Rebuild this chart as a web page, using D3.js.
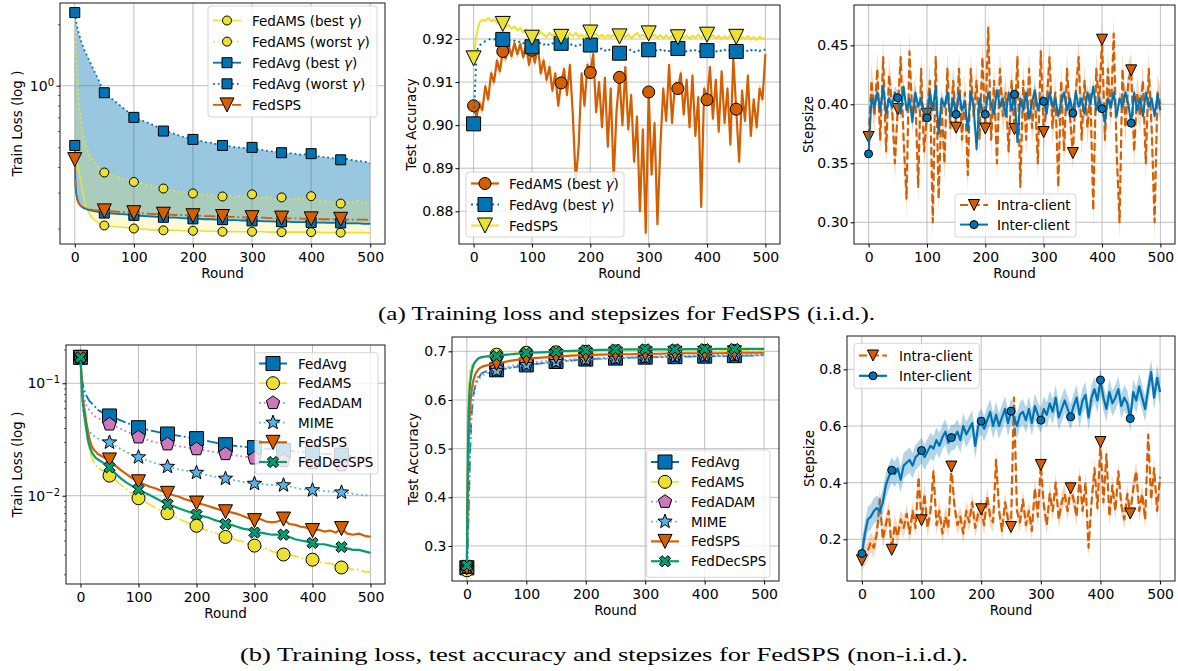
<!DOCTYPE html>
<html>
<head>
<meta charset="utf-8">
<script src="https://cdn.jsdelivr.net/npm/d3@7"></script>
<style>
body { margin: 0; background: #fff; }
text { font-family: "DejaVu Sans", sans-serif; fill: #000; }
</style>
</head>
<body>
<div id="chart"></div>
<script>
// ---------- data ----------
const ROUND_TICKS = [0, 100, 200, 300, 400, 500];
const ROUNDS_5 = d3.range(0, 501, 5);

// (a) left: train loss (i.i.d.)
const A_ROUNDS = [0, 1, 2, 3, 4, 6, 8, 10, 13, 16, 20, 25, 30, 40].concat(d3.range(50, 501, 10));
const A_AMS_BEST = [0.51, 0.48, 0.46, 0.44, 0.42, 0.39, 0.365, 0.345, 0.305, 0.275, 0.252, 0.235, 0.225, 0.213,
  0.207, 0.205, 0.204, 0.203, 0.202, 0.2, 0.199, 0.198, 0.197, 0.197, 0.196, 0.196, 0.196, 0.195, 0.195,
  0.195, 0.195, 0.194, 0.194, 0.194, 0.193, 0.193, 0.193, 0.193, 0.193, 0.193, 0.193, 0.193, 0.192, 0.192,
  0.192, 0.192, 0.192, 0.192, 0.192, 0.192, 0.192, 0.191, 0.191, 0.191, 0.191, 0.191, 0.191, 0.191, 0.191, 0.19];
const A_AMS_WORST = [2.28, 1.9, 1.6, 1.35, 1.15, 0.9, 0.78, 0.7, 0.6, 0.54, 0.5, 0.46, 0.44, 0.4,
  0.376, 0.368, 0.362, 0.352, 0.347, 0.338, 0.336, 0.328, 0.324, 0.318, 0.314, 0.309, 0.306, 0.3, 0.302,
  0.297, 0.295, 0.29, 0.293, 0.288, 0.287, 0.291, 0.284, 0.29, 0.286, 0.294, 0.284, 0.281, 0.286, 0.279,
  0.284, 0.279, 0.277, 0.283, 0.279, 0.288, 0.275, 0.272, 0.27, 0.267, 0.265, 0.27, 0.268, 0.273, 0.264, 0.27];
const A_AVG_BEST = [0.51, 0.34, 0.305, 0.29, 0.28, 0.27, 0.263, 0.258, 0.254, 0.251, 0.249, 0.246, 0.244, 0.241,
  0.238, 0.237, 0.236, 0.235, 0.234, 0.232, 0.231, 0.23, 0.229, 0.228, 0.227, 0.226, 0.226, 0.225, 0.224,
  0.223, 0.223, 0.222, 0.222, 0.221, 0.221, 0.22, 0.22, 0.219, 0.219, 0.218, 0.218, 0.217, 0.217, 0.216,
  0.216, 0.216, 0.215, 0.215, 0.215, 0.214, 0.214, 0.214, 0.213, 0.213, 0.213, 0.212, 0.212, 0.212, 0.211, 0.211];
const A_AVG_WORST = [2.28, 2.18, 2.09, 2.01, 1.95, 1.84, 1.76, 1.68, 1.58, 1.5, 1.42, 1.32, 1.23, 1.07,
  0.924, 0.875, 0.83, 0.785, 0.745, 0.7, 0.683, 0.665, 0.648, 0.628, 0.6, 0.592, 0.58, 0.565, 0.556,
  0.546, 0.54, 0.53, 0.526, 0.518, 0.51, 0.507, 0.5, 0.498, 0.495, 0.499, 0.488, 0.483, 0.478, 0.476,
  0.47, 0.468, 0.466, 0.46, 0.462, 0.465, 0.452, 0.448, 0.445, 0.44, 0.434, 0.438, 0.432, 0.428, 0.425, 0.418];
const A_SPS = [0.435, 0.33, 0.3, 0.285, 0.277, 0.268, 0.262, 0.258, 0.255, 0.252, 0.25, 0.248, 0.247, 0.245,
  0.244, 0.243, 0.242, 0.241, 0.24, 0.239, 0.238, 0.237, 0.236, 0.235, 0.235, 0.234, 0.233, 0.233, 0.232,
  0.231, 0.231, 0.23, 0.23, 0.229, 0.229, 0.228, 0.228, 0.227, 0.227, 0.226, 0.226, 0.226, 0.225, 0.225,
  0.225, 0.224, 0.224, 0.224, 0.223, 0.223, 0.223, 0.222, 0.222, 0.222, 0.222, 0.221, 0.221, 0.221, 0.221, 0.22];

// (a) middle: test accuracy (i.i.d.), every 5 rounds
const B_AMS = [0.9045, 0.9020, 0.9050, 0.9035, 0.9090, 0.9060, 0.9120, 0.9100, 0.9150, 0.9125,
  0.9171, 0.9155, 0.9185, 0.9160, 0.9190, 0.9165, 0.9188, 0.9158, 0.9185, 0.9140,
  0.9174, 0.9145, 0.9185, 0.9120, 0.9150, 0.9105, 0.9135, 0.9080, 0.9120, 0.9045,
  0.9098, 0.9130, 0.9070, 0.9140, 0.9025, 0.8870, 0.8950, 0.9120, 0.9045, 0.9140,
  0.9122, 0.9165, 0.9030, 0.9100, 0.8995, 0.9110, 0.8950, 0.9085, 0.8875, 0.9035,
  0.9111, 0.9000, 0.9135, 0.8990, 0.9070, 0.8915, 0.9020, 0.8800, 0.8990, 0.8750,
  0.9077, 0.8885, 0.9005, 0.8770, 0.8950, 0.9085, 0.9010, 0.9140, 0.9005, 0.9095,
  0.9085, 0.9120, 0.9025, 0.9105, 0.8995, 0.9115, 0.8975, 0.9065, 0.8810, 0.9085,
  0.9059, 0.9135, 0.9015, 0.9105, 0.8985, 0.9125, 0.9005, 0.9085, 0.8955, 0.9155,
  0.9037, 0.8915, 0.9080, 0.9010, 0.9115, 0.8975, 0.9060, 0.8995, 0.9085, 0.9060,
  0.9165];
const B_AVG = [0.9003, 0.9172, 0.9185, 0.9190, 0.9195, 0.9198, 0.9201, 0.9199, 0.9202, 0.9200,
  0.9199, 0.9196, 0.9198, 0.9194, 0.9196, 0.9192, 0.9195, 0.9190, 0.9193, 0.9188,
  0.9182, 0.9190, 0.9186, 0.9192, 0.9187, 0.9191, 0.9185, 0.9190, 0.9187, 0.9191,
  0.9190, 0.9186, 0.9190, 0.9185, 0.9189, 0.9184, 0.9188, 0.9185, 0.9189, 0.9184,
  0.9186, 0.9176, 0.9180, 0.9174, 0.9179, 0.9173, 0.9178, 0.9172, 0.9177, 0.9171,
  0.9167, 0.9174, 0.9178, 0.9172, 0.9176, 0.9170, 0.9175, 0.9171, 0.9176, 0.9172,
  0.9175, 0.9170, 0.9176, 0.9171, 0.9175, 0.9170, 0.9176, 0.9172, 0.9177, 0.9173,
  0.9178, 0.9172, 0.9176, 0.9171, 0.9175, 0.9170, 0.9174, 0.9169, 0.9175, 0.9170,
  0.9173, 0.9169, 0.9175, 0.9170, 0.9176, 0.9171, 0.9175, 0.9170, 0.9174, 0.9169,
  0.9171, 0.9176, 0.9172, 0.9177, 0.9171, 0.9175, 0.9170, 0.9176, 0.9172, 0.9177,
  0.9174];
const B_SPS = [0.9155, 0.9210, 0.9238, 0.9244, 0.9242, 0.9248, 0.9241, 0.9245, 0.9238, 0.9242,
  0.9235, 0.9228, 0.9232, 0.9224, 0.9229, 0.9220, 0.9226, 0.9215, 0.9222, 0.9212,
  0.9203, 0.9215, 0.9208, 0.9216, 0.9210, 0.9205, 0.9214, 0.9207, 0.9212, 0.9203,
  0.9205, 0.9211, 0.9204, 0.9213, 0.9206, 0.9214, 0.9205, 0.9210, 0.9203, 0.9212,
  0.9215, 0.9208, 0.9212, 0.9204, 0.9210, 0.9202, 0.9209, 0.9203, 0.9211, 0.9205,
  0.9206, 0.9212, 0.9204, 0.9210, 0.9202, 0.9208, 0.9214, 0.9205, 0.9210, 0.9204,
  0.9213, 0.9206, 0.9210, 0.9203, 0.9209, 0.9202, 0.9208, 0.9201, 0.9207, 0.9203,
  0.9204, 0.9210, 0.9203, 0.9208, 0.9201, 0.9207, 0.9203, 0.9210, 0.9202, 0.9209,
  0.9210, 0.9204, 0.9209, 0.9201, 0.9207, 0.9200, 0.9206, 0.9201, 0.9208, 0.9200,
  0.9205, 0.9199, 0.9205, 0.9200, 0.9207, 0.9199, 0.9204, 0.9198, 0.9205, 0.9200,
  0.9202];

// (a) right: stepsizes (i.i.d.), every 5 rounds
const C_INTRA = [0.3723, 0.420, 0.390, 0.430, 0.370, 0.440, 0.360, 0.425, 0.400, 0.350,
  0.396, 0.440, 0.370, 0.320, 0.445, 0.390, 0.410, 0.330, 0.430, 0.360,
  0.392, 0.420, 0.300, 0.440, 0.320, 0.400, 0.350, 0.430, 0.380, 0.420,
  0.3802, 0.430, 0.370, 0.410, 0.340, 0.430, 0.390, 0.420, 0.370, 0.440,
  0.3795, 0.465, 0.370, 0.420, 0.350, 0.430, 0.390, 0.410, 0.360, 0.420,
  0.379, 0.440, 0.330, 0.420, 0.370, 0.430, 0.380, 0.410, 0.350, 0.445,
  0.3765, 0.400, 0.440, 0.380, 0.410, 0.330, 0.420, 0.360, 0.430, 0.390,
  0.3587, 0.410, 0.440, 0.370, 0.420, 0.380, 0.410, 0.310, 0.430, 0.400,
  0.4548, 0.370, 0.430, 0.390, 0.460, 0.360, 0.300, 0.430, 0.380, 0.420,
  0.4288, 0.360, 0.410, 0.390, 0.420, 0.350, 0.430, 0.380, 0.300, 0.410,
  0.400];
const C_INTER = [0.358, 0.405, 0.398, 0.410, 0.395, 0.415, 0.392, 0.405, 0.398, 0.410,
  0.4055, 0.392, 0.415, 0.395, 0.405, 0.385, 0.410, 0.398, 0.405, 0.392,
  0.3885, 0.410, 0.395, 0.415, 0.375, 0.405, 0.398, 0.410, 0.390, 0.405,
  0.3915, 0.410, 0.395, 0.402, 0.378, 0.410, 0.398, 0.362, 0.405, 0.395,
  0.3915, 0.410, 0.400, 0.392, 0.412, 0.398, 0.405, 0.390, 0.410, 0.395,
  0.4085, 0.368, 0.405, 0.395, 0.410, 0.388, 0.402, 0.412, 0.395, 0.405,
  0.4025, 0.392, 0.410, 0.398, 0.405, 0.390, 0.402, 0.410, 0.395, 0.405,
  0.3925, 0.410, 0.398, 0.405, 0.392, 0.410, 0.400, 0.415, 0.395, 0.405,
  0.3963, 0.385, 0.405, 0.398, 0.410, 0.390, 0.405, 0.398, 0.410, 0.400,
  0.384, 0.410, 0.395, 0.405, 0.390, 0.410, 0.398, 0.405, 0.390, 0.408,
  0.395];

// (b) left: train loss (non-i.i.d.)
const D_ROUNDS = [0, 1, 2, 3, 4, 6, 8, 10, 13, 16, 20, 25, 30, 40].concat(d3.range(50, 501, 10));
const D_AVG = [0.17, 0.14, 0.12, 0.107, 0.098, 0.088, 0.082, 0.078, 0.073, 0.069, 0.066, 0.062, 0.058, 0.054,
  0.0512, 0.049, 0.0465, 0.0445, 0.0422, 0.0403, 0.0392, 0.0381, 0.0372, 0.0362, 0.0354, 0.0347, 0.034, 0.0334, 0.0328,
  0.0322, 0.0314, 0.0306, 0.0298, 0.029, 0.0284, 0.028, 0.0276, 0.0273, 0.027, 0.0268, 0.0265, 0.0262, 0.0259, 0.0256,
  0.0253, 0.025, 0.0247, 0.0245, 0.0242, 0.024, 0.0238, 0.0236, 0.0234, 0.0232, 0.023, 0.0227, 0.0224, 0.0221, 0.0218, 0.0215];
const D_AMS = [0.17, 0.13, 0.1, 0.08, 0.065, 0.052, 0.044, 0.037, 0.03, 0.025, 0.0215, 0.019, 0.0178, 0.0165,
  0.0151, 0.0138, 0.0125, 0.0113, 0.0103, 0.0095, 0.0089, 0.0083, 0.0078, 0.0073, 0.007, 0.0066, 0.0062, 0.0059, 0.0056,
  0.0054, 0.0051, 0.0049, 0.0047, 0.0045, 0.0043, 0.0042, 0.004, 0.0039, 0.0037, 0.0036, 0.0035, 0.0034, 0.0032, 0.0031,
  0.003, 0.003, 0.0029, 0.0028, 0.0027, 0.0027, 0.0026, 0.0025, 0.0025, 0.0024, 0.0023, 0.0023, 0.0022, 0.0022, 0.0021, 0.0021];
const D_ADAM = [0.17, 0.13, 0.108, 0.094, 0.085, 0.074, 0.068, 0.064, 0.06, 0.057, 0.054, 0.051, 0.049, 0.046,
  0.0431, 0.0412, 0.0392, 0.0372, 0.035, 0.0331, 0.0319, 0.0308, 0.0298, 0.0292, 0.0287, 0.0281, 0.0275, 0.027, 0.0265,
  0.026, 0.0255, 0.025, 0.0245, 0.024, 0.0235, 0.0231, 0.0227, 0.0223, 0.0219, 0.0215, 0.0213, 0.0211, 0.0209, 0.0207,
  0.0205, 0.0203, 0.0201, 0.0199, 0.0197, 0.0195, 0.0193, 0.0192, 0.019, 0.0189, 0.0187, 0.0186, 0.0184, 0.0183, 0.0182, 0.018];
const D_MIME = [0.17, 0.115, 0.085, 0.068, 0.058, 0.05, 0.045, 0.042, 0.039, 0.037, 0.035, 0.0335, 0.0322, 0.031,
  0.0298, 0.0278, 0.0259, 0.0243, 0.023, 0.022, 0.0211, 0.0202, 0.0194, 0.0187, 0.0181, 0.0176, 0.0171, 0.0167, 0.0163,
  0.016, 0.0156, 0.0152, 0.0148, 0.0145, 0.0142, 0.0139, 0.0136, 0.0133, 0.013, 0.0128, 0.0127, 0.0126, 0.0125, 0.0124,
  0.0124, 0.0121, 0.0118, 0.0115, 0.0113, 0.0112, 0.0111, 0.011, 0.0109, 0.0108, 0.0107, 0.0106, 0.0104, 0.0102, 0.0101, 0.01];
const D_SPS = [0.17, 0.135, 0.11, 0.09, 0.075, 0.062, 0.054, 0.045, 0.037, 0.031, 0.027, 0.025, 0.0235, 0.022,
  0.0208, 0.0185, 0.0168, 0.0155, 0.0142, 0.0133, 0.0126, 0.012, 0.0116, 0.011, 0.0105, 0.0101, 0.0098, 0.0093, 0.009,
  0.0086, 0.0084, 0.0081, 0.0078, 0.0075, 0.0072, 0.0071, 0.0069, 0.0066, 0.0063, 0.006, 0.0062, 0.0059, 0.0058, 0.0059,
  0.0062, 0.0056, 0.0055, 0.0053, 0.0052, 0.0049, 0.005, 0.0048, 0.0049, 0.0047, 0.0051, 0.0046, 0.0045, 0.0046, 0.0044, 0.0043];
const D_DEC = [0.17, 0.13, 0.1, 0.08, 0.068, 0.055, 0.047, 0.039, 0.031, 0.027, 0.024, 0.022, 0.021, 0.0195,
  0.0179, 0.0158, 0.0142, 0.013, 0.0121, 0.0114, 0.0107, 0.0101, 0.0095, 0.0089, 0.0084, 0.0081, 0.0077, 0.0074, 0.0071,
  0.0068, 0.0066, 0.0064, 0.0061, 0.0059, 0.0056, 0.0055, 0.0053, 0.0051, 0.005, 0.0047, 0.0047, 0.0046, 0.0045, 0.0045,
  0.0045, 0.0043, 0.0041, 0.004, 0.0039, 0.0038, 0.0037, 0.0037, 0.0036, 0.0035, 0.0035, 0.0034, 0.0033, 0.0033, 0.0032, 0.0031];

// (b) middle: test accuracy (non-i.i.d.)
const E_ROUNDS = [0, 1, 2, 3, 4, 5, 6, 8, 10, 12, 15, 20, 25, 30, 40].concat(d3.range(50, 501, 25));
const E_AVG = [0.255, 0.28, 0.32, 0.37, 0.42, 0.47, 0.51, 0.57, 0.6, 0.618, 0.632, 0.646, 0.655, 0.658, 0.66,
  0.662, 0.666, 0.672, 0.675, 0.679, 0.681, 0.684, 0.685, 0.686, 0.687, 0.688, 0.688, 0.689, 0.689, 0.69, 0.69, 0.691, 0.691, 0.692];
const E_AMS = [0.25, 0.42, 0.58, 0.64, 0.62, 0.66, 0.645, 0.67, 0.675, 0.668, 0.68, 0.685, 0.687, 0.689, 0.691,
  0.693, 0.695, 0.697, 0.698, 0.698, 0.699, 0.699, 0.699, 0.7, 0.7, 0.7, 0.7, 0.7, 0.7, 0.701, 0.701, 0.701, 0.701, 0.701];
const E_ADAM = [0.255, 0.29, 0.34, 0.4, 0.46, 0.51, 0.54, 0.585, 0.612, 0.628, 0.64, 0.65, 0.655, 0.658, 0.661,
  0.663, 0.67, 0.676, 0.679, 0.681, 0.683, 0.685, 0.686, 0.687, 0.688, 0.689, 0.69, 0.691, 0.691, 0.692, 0.692, 0.693, 0.693, 0.694];
const E_MIME = [0.255, 0.285, 0.33, 0.39, 0.44, 0.49, 0.52, 0.575, 0.605, 0.62, 0.632, 0.642, 0.649, 0.653, 0.657,
  0.66, 0.667, 0.672, 0.675, 0.678, 0.681, 0.683, 0.684, 0.685, 0.686, 0.687, 0.688, 0.689, 0.689, 0.69, 0.69, 0.691, 0.691, 0.692];
const E_SPS = [0.255, 0.38, 0.46, 0.51, 0.55, 0.575, 0.595, 0.62, 0.635, 0.645, 0.655, 0.664, 0.668, 0.67, 0.673,
  0.675, 0.681, 0.685, 0.687, 0.689, 0.691, 0.692, 0.693, 0.694, 0.694, 0.695, 0.695, 0.696, 0.696, 0.696, 0.696, 0.697, 0.697, 0.697];
const E_DEC = [0.26, 0.4, 0.52, 0.58, 0.61, 0.628, 0.64, 0.657, 0.668, 0.675, 0.68, 0.686, 0.688, 0.689, 0.69,
  0.6905, 0.694, 0.697, 0.698, 0.6995, 0.701, 0.702, 0.703, 0.7035, 0.704, 0.704, 0.704, 0.704, 0.7045, 0.7045, 0.705, 0.705, 0.705, 0.705];

// (b) right: stepsizes (non-i.i.d.), every 5 rounds
const F_INTRA = [0.1258, 0.14, 0.16, 0.19, 0.17, 0.22, 0.34, 0.20, 0.25, 0.30,
  0.163, 0.25, 0.21, 0.27, 0.24, 0.29, 0.22, 0.30, 0.24, 0.42,
  0.2671, 0.36, 0.24, 0.30, 0.44, 0.25, 0.30, 0.22, 0.28, 0.24,
  0.4567, 0.32, 0.25, 0.28, 0.22, 0.30, 0.26, 0.33, 0.24, 0.29,
  0.306, 0.25, 0.35, 0.28, 0.26, 0.48, 0.30, 0.23, 0.33, 0.27,
  0.2435, 0.70, 0.30, 0.26, 0.34, 0.25, 0.30, 0.23, 0.38, 0.28,
  0.4625, 0.32, 0.25, 0.36, 0.30, 0.40, 0.27, 0.33, 0.36, 0.30,
  0.38, 0.34, 0.28, 0.42, 0.30, 0.40, 0.17, 0.33, 0.45, 0.31,
  0.5434, 0.33, 0.50, 0.28, 0.39, 0.30, 0.44, 0.32, 0.27, 0.36,
  0.291, 0.38, 0.44, 0.30, 0.36, 0.27, 0.57, 0.34, 0.45, 0.30,
  0.42];
const F_INTER = [0.15, 0.22, 0.27, 0.28, 0.30, 0.31, 0.30, 0.33, 0.39, 0.42,
  0.4438, 0.43, 0.45, 0.41, 0.46, 0.47, 0.48, 0.46, 0.49, 0.50,
  0.5134, 0.49, 0.51, 0.53, 0.52, 0.55, 0.53, 0.56, 0.58, 0.54,
  0.559, 0.56, 0.58, 0.55, 0.60, 0.57, 0.59, 0.61, 0.53, 0.60,
  0.617, 0.59, 0.62, 0.65, 0.60, 0.64, 0.60, 0.63, 0.66, 0.61,
  0.6523, 0.63, 0.60, 0.64, 0.65, 0.62, 0.66, 0.61, 0.67, 0.64,
  0.6205, 0.66, 0.64, 0.68, 0.65, 0.70, 0.63, 0.66, 0.69, 0.66,
  0.632, 0.67, 0.70, 0.64, 0.69, 0.71, 0.63, 0.70, 0.73, 0.69,
  0.7622, 0.70, 0.66, 0.72, 0.68, 0.70, 0.73, 0.67, 0.70, 0.68,
  0.6264, 0.72, 0.69, 0.74, 0.70, 0.66, 0.73, 0.79, 0.70, 0.77,
  0.72];

const CAPTION_A = '(a) Training loss and stepsizes for FedSPS (i.i.d.).';
const CAPTION_B = '(b) Training loss, test accuracy and stepsizes for FedSPS (non-i.i.d.).';

// ---------- drawing ----------
const COL = { blue: '#0173b2', yellow: '#ece133', orange: '#d55e00', pink: '#cc78bc', sky: '#56b4e9', green: '#029e73' };

const svg = d3.select('#chart').append('svg')
    .attr('width', 1178)
    .attr('height', 671);
svg.append('rect').attr('width', 1178).attr('height', 671).attr('fill', '#fff');

let clipCount = 0;

function poly(pts) {
    return 'M' + pts.map(p => p[0].toFixed(2) + ',' + p[1].toFixed(2)).join('L') + 'Z';
}

// marker shapes, size = full width in px
function markerPath(type, size) {
    const h = size / 2;
    if (type === 'circle') return d3.symbol(d3.symbolCircle, Math.PI * h * h)();
    if (type === 'square') return poly([[-h, -h], [h, -h], [h, h], [-h, h]]);
    if (type === 'tri') return poly([[-h, -h], [h, -h], [0, h]]);
    if (type === 'pent') return poly(d3.range(5).map(i => {
        const a = -Math.PI / 2 + i * 2 * Math.PI / 5;
        return [h * Math.cos(a), h * Math.sin(a)];
    }));
    if (type === 'star') return poly(d3.range(10).map(i => {
        const a = -Math.PI / 2 + i * Math.PI / 5;
        const r = i % 2 ? h * 0.42 : h;
        return [r * Math.cos(a), r * Math.sin(a)];
    }));
    // filled X
    const L = h, t = h * 0.32;
    const plus = [[t, L], [t, t], [L, t], [L, -t], [t, -t], [t, -L], [-t, -L], [-t, -t], [-L, -t], [-L, t], [-t, t], [-t, L]];
    const c = Math.SQRT1_2;
    return poly(plus.map(p => [(p[0] - p[1]) * c, (p[0] + p[1]) * c]));
}

function dash(ls, lw) {
    if (ls === ':') return [1 * lw, 1.65 * lw].join(',');
    if (ls === '-.') return [6.4 * lw, 1.6 * lw, 1 * lw, 1.6 * lw].join(',');
    if (ls === '--') return [3.7 * lw, 1.6 * lw].join(',');
    return null;
}

function makePanel(o) {
    const x = d3.scaleLinear().domain([-25, 525]).range([o.l, o.r]);
    const y = (o.log ? d3.scaleLog() : d3.scaleLinear()).domain(o.yDomain).range([o.b, o.t]);
    const id = 'clip' + (clipCount++);
    svg.append('clipPath').attr('id', id).append('rect')
        .attr('x', o.l).attr('y', o.t).attr('width', o.r - o.l).attr('height', o.b - o.t);
    const g = svg.append('g');

    // grid
    const grid = g.append('g').attr('stroke', '#b0b0b0').attr('stroke-width', 0.8);
    grid.selectAll(null).data(ROUND_TICKS).enter().append('line')
        .attr('x1', d => x(d)).attr('x2', d => x(d)).attr('y1', o.t).attr('y2', o.b);
    grid.selectAll(null).data(o.yTicks).enter().append('line')
        .attr('x1', o.l).attr('x2', o.r).attr('y1', d => y(d)).attr('y2', d => y(d));

    const plot = g.append('g').attr('clip-path', `url(#${id})`);
    return { o, x, y, g, plot };
}

function finishAxes(p) {
    const o = p.o;
    const ax = p.g.append('g');
    ax.append('rect').attr('x', o.l).attr('y', o.t).attr('width', o.r - o.l).attr('height', o.b - o.t)
        .attr('fill', 'none').attr('stroke', '#000').attr('stroke-width', 0.9);

    // x axis
    const xa = ax.append('g').attr('transform', `translate(0,${o.b})`)
        .call(d3.axisBottom(p.x).tickValues(ROUND_TICKS).tickSize(3.5).tickSizeOuter(0).tickPadding(4.5));
    xa.select('.domain').remove();
    xa.selectAll('text').attr('font-size', '14px').attr('font-family', 'DejaVu Sans');

    // y axis
    if (o.log) {
        const minor = ax.append('g').attr('transform', `translate(${o.l},0)`)
            .call(d3.axisLeft(p.y).tickValues(o.yMinor).tickSize(2).tickFormat(''));
        minor.select('.domain').remove();
        minor.selectAll('line').attr('stroke-width', 0.6);
        const major = ax.append('g').attr('transform', `translate(${o.l},0)`)
            .call(d3.axisLeft(p.y).tickValues(o.yTicks).tickSize(3.5).tickFormat(''));
        major.select('.domain').remove();
        o.yTicks.forEach(v => {
            const e = Math.round(Math.log10(v));
            const t = ax.append('text')
                .attr('x', o.l - 6).attr('y', p.y(v) + 5)
                .attr('text-anchor', 'end').attr('font-size', '14px');
            t.append('tspan').text('10');
            t.append('tspan').attr('dy', '-0.5em').attr('font-size', '10px').text(e < 0 ? '\u2212' + (-e) : String(e));
        });
    } else {
        const ya = ax.append('g').attr('transform', `translate(${o.l},0)`)
            .call(d3.axisLeft(p.y).tickValues(o.yTicks).tickSize(3.5).tickSizeOuter(0).tickPadding(2)
                .tickFormat(d3.format(o.fmt)));
        ya.select('.domain').remove();
        ya.selectAll('text').attr('font-size', '14px').attr('font-family', 'DejaVu Sans');
    }

    // axis titles
    ax.append('text')
        .attr('x', (o.l + o.r) / 2).attr('y', o.b + 34)
        .attr('text-anchor', 'middle').attr('font-size', '13.5px')
        .text('Round');
    ax.append('text')
        .attr('transform', `translate(${o.ylabelX + 4.5},${(o.t + o.b) / 2}) rotate(-90)`)
        .attr('text-anchor', 'middle').attr('font-size', '13.5px')
        .text(o.ylabel);
}

function fillBetween(p, rounds, lo, hi, color, opacity) {
    const pts = rounds.map((r, i) => [r, lo[i], hi[i]]);
    p.plot.append('path').datum(pts)
        .attr('d', d3.area().x(d => p.x(d[0])).y0(d => p.y(d[1])).y1(d => p.y(d[2])))
        .attr('fill', color).attr('fill-opacity', opacity);
}

function drawSeries(p, rounds, vals, s) {
    const pts = rounds.map((r, i) => [r, vals[i]]);
    if (s.band) {
        p.plot.append('path').datum(pts)
            .attr('d', d3.area().x(d => p.x(d[0])).y0(d => p.y(d[1] - s.band)).y1(d => p.y(d[1] + s.band)))
            .attr('fill', s.color).attr('fill-opacity', s.bandOpacity || 0.3);
    }
    p.plot.append('path').datum(pts)
        .attr('d', d3.line().x(d => p.x(d[0])).y(d => p.y(d[1])))
        .attr('fill', 'none')
        .attr('stroke', s.color)
        .attr('stroke-width', s.lw)
        .attr('stroke-linejoin', 'round')
        .attr('stroke-dasharray', dash(s.ls, s.lw));
    const marks = pts.filter(d => d[0] % 50 === 0 && d[0] < 500);
    p.plot.selectAll(null).data(marks).enter().append('path')
        .attr('d', markerPath(s.marker, s.ms))
        .attr('transform', d => `translate(${p.x(d[0])},${p.y(d[1])})`)
        .attr('fill', s.color).attr('stroke', '#000').attr('stroke-width', 1);
}

function addLabel(sel, label) {
    label.split(/(γ)/).forEach(part => {
        if (!part) return;
        sel.append('tspan').text(part).attr('font-style', part === 'γ' ? 'italic' : null);
    });
}

function legend(box, items) {
    const lg = svg.append('g');
    lg.append('rect')
        .attr('x', box.x).attr('y', box.y).attr('width', box.w).attr('height', box.h)
        .attr('rx', 3)
        .attr('fill', '#fff').attr('fill-opacity', 0.8)
        .attr('stroke', '#cccccc').attr('stroke-width', 0.8);
    items.forEach((it, i) => {
        const cy = box.first + i * box.step;
        const s = it.style;
        lg.append('line')
            .attr('x1', box.hx).attr('x2', box.hx + 28).attr('y1', cy).attr('y2', cy)
            .attr('stroke', s.color).attr('stroke-width', s.lw)
            .attr('stroke-dasharray', dash(s.ls, s.lw));
        lg.append('path')
            .attr('d', markerPath(s.marker, s.ms))
            .attr('transform', `translate(${box.hx + 14},${cy})`)
            .attr('fill', s.color).attr('stroke', '#000').attr('stroke-width', 1);
        const t = lg.append('text')
            .attr('x', box.tx).attr('y', cy + 5)
            .attr('font-size', '13.5px');
        addLabel(t, it.label);
    });
}

// ----- (a) left -----
const pA = makePanel({ l: 60, t: 3, r: 385, b: 244, log: true, yDomain: [0.168, 2.54],
    yTicks: [1], yMinor: [0.2, 0.3, 0.4, 0.5, 0.6, 0.7, 0.8, 0.9, 2],
    ylabel: 'Train Loss (log )', ylabelX: 17 });
const sA = {
    amsBest: { color: COL.yellow, ls: '-', lw: 1.6, marker: 'circle', ms: 9 },
    amsWorst: { color: COL.yellow, ls: ':', lw: 1.8, marker: 'circle', ms: 9 },
    avgBest: { color: COL.blue, ls: '-', lw: 1.8, marker: 'square', ms: 10 },
    avgWorst: { color: COL.blue, ls: ':', lw: 1.8, marker: 'square', ms: 10 },
    sps: { color: COL.orange, ls: '-.', lw: 1.8, marker: 'tri', ms: 14 }
};
fillBetween(pA, A_ROUNDS, A_AVG_BEST, A_AVG_WORST, COL.blue, 0.4);
fillBetween(pA, A_ROUNDS, A_AMS_BEST, A_AMS_WORST, COL.yellow, 0.2);
drawSeries(pA, A_ROUNDS, A_AMS_BEST, sA.amsBest);
drawSeries(pA, A_ROUNDS, A_AMS_WORST, sA.amsWorst);
drawSeries(pA, A_ROUNDS, A_AVG_BEST, sA.avgBest);
drawSeries(pA, A_ROUNDS, A_AVG_WORST, sA.avgWorst);
drawSeries(pA, A_ROUNDS, A_SPS, sA.sps);
finishAxes(pA);
legend({ x: 208, y: 6, w: 169, h: 111, first: 20.5, step: 21.1, hx: 213, tx: 252 }, [
    { label: 'FedAMS (best γ)', style: sA.amsBest },
    { label: 'FedAMS (worst γ)', style: sA.amsWorst },
    { label: 'FedAvg (best γ)', style: sA.avgBest },
    { label: 'FedAvg (worst γ)', style: sA.avgWorst },
    { label: 'FedSPS', style: sA.sps }
]);

// ----- (a) middle -----
const pB = makePanel({ l: 459, t: 5, r: 780, b: 244, yDomain: [0.87241, 0.92789],
    yTicks: [0.88, 0.89, 0.90, 0.91, 0.92], fmt: '.2f', ylabel: 'Test Accuracy', ylabelX: 411 });
const sB = {
    ams: { color: COL.orange, ls: '-', lw: 2.2, marker: 'circle', ms: 12, band: 0.0012, bandOpacity: 0.3 },
    avg: { color: COL.blue, ls: ':', lw: 2, marker: 'square', ms: 14 },
    sps: { color: COL.yellow, ls: '-', lw: 2, marker: 'tri', ms: 15, band: 0.0004, bandOpacity: 0.3 }
};
drawSeries(pB, ROUNDS_5, B_AMS, sB.ams);
drawSeries(pB, ROUNDS_5, B_AVG, sB.avg);
drawSeries(pB, ROUNDS_5, B_SPS, sB.sps);
finishAxes(pB);
legend({ x: 466, y: 172, w: 158, h: 65, first: 183.5, step: 21, hx: 471, tx: 509 }, [
    { label: 'FedAMS (best γ)', style: sB.ams },
    { label: 'FedAvg (best γ)', style: sB.avg },
    { label: 'FedSPS', style: sB.sps }
]);

// ----- (a) right -----
const pC = makePanel({ l: 854, t: 5, r: 1175, b: 244, yDomain: [0.2816, 0.4842],
    yTicks: [0.30, 0.35, 0.40, 0.45], fmt: '.2f', ylabel: 'Stepsize', ylabelX: 808 });
const sC = {
    intra: { color: COL.orange, ls: '--', lw: 2.2, marker: 'tri', ms: 11, band: 0.015, bandOpacity: 0.25 },
    inter: { color: COL.blue, ls: '-', lw: 2, marker: 'circle', ms: 8, band: 0.006, bandOpacity: 0.25 }
};
drawSeries(pC, ROUNDS_5, C_INTRA, sC.intra);
drawSeries(pC, ROUNDS_5, C_INTER, sC.inter);
finishAxes(pC);
legend({ x: 955, y: 194, w: 121, h: 43, first: 205, step: 19.6, hx: 960, tx: 997 }, [
    { label: 'Intra-client', style: sC.intra },
    { label: 'Inter-client', style: sC.inter }
]);

// ----- (b) styles shared by left & middle -----
const sBig = {
    avg: { color: COL.blue, ls: '-.', lw: 1.8, marker: 'square', ms: 14 },
    ams: { color: COL.yellow, ls: '-.', lw: 1.8, marker: 'circle', ms: 13 },
    adam: { color: COL.pink, ls: ':', lw: 1.8, marker: 'pent', ms: 14 },
    mime: { color: COL.sky, ls: ':', lw: 1.8, marker: 'star', ms: 15 },
    sps: { color: COL.orange, ls: '-', lw: 2.2, marker: 'tri', ms: 14 },
    dec: { color: COL.green, ls: '-', lw: 2.2, marker: 'x', ms: 12 }
};
const bigItems = [
    { label: 'FedAvg', style: sBig.avg },
    { label: 'FedAMS', style: sBig.ams },
    { label: 'FedADAM', style: sBig.adam },
    { label: 'MIME', style: sBig.mime },
    { label: 'FedSPS', style: sBig.sps },
    { label: 'FedDecSPS', style: sBig.dec }
];

// ----- (b) left -----
const pD = makePanel({ l: 66, t: 345, r: 385, b: 584, log: true, yDomain: [0.00164, 0.219],
    yTicks: [0.01, 0.1],
    yMinor: [0.002, 0.003, 0.004, 0.005, 0.006, 0.007, 0.008, 0.009, 0.02, 0.03, 0.04, 0.05, 0.06, 0.07, 0.08, 0.09, 0.2],
    ylabel: 'Train Loss (log )', ylabelX: 17 });
drawSeries(pD, D_ROUNDS, D_AVG, sBig.avg);
drawSeries(pD, D_ROUNDS, D_AMS, sBig.ams);
drawSeries(pD, D_ROUNDS, D_ADAM, sBig.adam);
drawSeries(pD, D_ROUNDS, D_MIME, sBig.mime);
drawSeries(pD, D_ROUNDS, D_SPS, sBig.sps);
drawSeries(pD, D_ROUNDS, D_DEC, sBig.dec);
finishAxes(pD);
legend({ x: 255, y: 352.7, w: 123, h: 121.3, first: 363.5, step: 19.7, hx: 259, tx: 298 }, bigItems);

// ----- (b) middle -----
const pE = makePanel({ l: 452, t: 337, r: 779, b: 581, yDomain: [0.228, 0.7294],
    yTicks: [0.3, 0.4, 0.5, 0.6, 0.7], fmt: '.1f', ylabel: 'Test Accuracy', ylabelX: 413 });
drawSeries(pE, E_ROUNDS, E_AVG, sBig.avg);
drawSeries(pE, E_ROUNDS, E_AMS, sBig.ams);
drawSeries(pE, E_ROUNDS, E_ADAM, sBig.adam);
drawSeries(pE, E_ROUNDS, E_MIME, sBig.mime);
drawSeries(pE, E_ROUNDS, E_SPS, sBig.sps);
drawSeries(pE, E_ROUNDS, E_DEC, sBig.dec);
finishAxes(pE);
legend({ x: 646.7, y: 450, w: 123.3, h: 127.3, first: 462, step: 19.85, hx: 651, tx: 691 }, bigItems);

// ----- (b) right -----
const pF = makePanel({ l: 847, t: 336, r: 1175, b: 581, yDomain: [0.0527, 0.9177],
    yTicks: [0.2, 0.4, 0.6, 0.8], fmt: '.1f', ylabel: 'Stepsize', ylabelX: 809 });
const sF = {
    intra: { color: COL.orange, ls: '--', lw: 2.2, marker: 'tri', ms: 11, band: 0.035, bandOpacity: 0.25 },
    inter: { color: COL.blue, ls: '-', lw: 2.2, marker: 'circle', ms: 8, band: 0.045, bandOpacity: 0.3 }
};
drawSeries(pF, ROUNDS_5, F_INTRA, sF.intra);
drawSeries(pF, ROUNDS_5, F_INTER, sF.inter);
finishAxes(pF);
legend({ x: 854, y: 343.3, w: 125.3, h: 45, first: 355.5, step: 20.3, hx: 859, tx: 899 }, [
    { label: 'Intra-client', style: sF.intra },
    { label: 'Inter-client', style: sF.inter }
]);

// ----- captions -----
svg.append('text')
    .attr('x', 378).attr('y', 320)
    .attr('textLength', 497).attr('lengthAdjust', 'spacingAndGlyphs')
    .style('font-family', '"Liberation Serif", serif').style('font-size', '19.5px')
    .text(CAPTION_A);
svg.append('text')
    .attr('x', 240).attr('y', 661)
    .attr('textLength', 728).attr('lengthAdjust', 'spacingAndGlyphs')
    .style('font-family', '"Liberation Serif", serif').style('font-size', '19.5px')
    .text(CAPTION_B);
</script>
</body>
</html>
